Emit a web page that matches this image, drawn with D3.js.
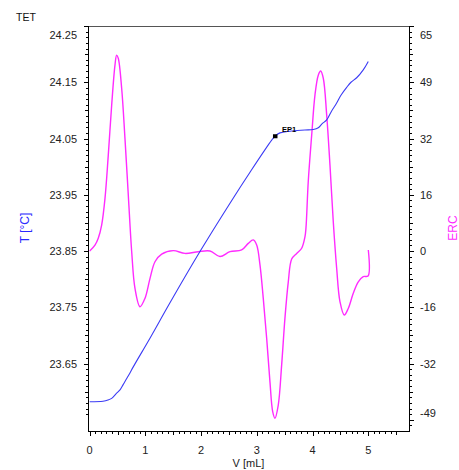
<!DOCTYPE html>
<html>
<head>
<meta charset="utf-8">
<script src="https://cdn.jsdelivr.net/npm/d3@7"></script>
<style>
  html, body { margin: 0; padding: 0; background: #fff; }
  svg { display: block; font-family: "Liberation Sans", Arial, sans-serif; }
</style>
</head>
<body>
<svg id="chart" width="459" height="470"></svg>
<script>
// ---- data ----
const ercV   = [0.00, 0.095, 0.154, 0.215, 0.275, 0.334, 0.395, 0.454, 0.484, 0.513, 0.574, 0.633, 0.693, 0.754, 0.813, 0.903, 0.992, 1.083, 1.172, 1.292, 1.500, 1.711, 1.949, 2.159, 2.338, 2.518, 2.727, 2.846, 2.936, 2.997, 3.056, 3.115, 3.176, 3.235, 3.284, 3.325, 3.384, 3.445, 3.504, 3.564, 3.625, 3.714, 3.804, 3.863, 3.881, 3.922, 3.984, 4.043, 4.102, 4.145, 4.192, 4.253, 4.312, 4.371, 4.432, 4.491, 4.568, 4.640, 4.730, 4.820, 4.909, 4.995, 5.000];
const ercVal = [0.0, 1.7, 3.7, 7.5, 15.2, 27.7, 42.2, 53.7, 56.6, 55.7, 47.0, 32.6, 16.2, -0.2, -10.8, -16.1, -13.7, -7.9, -3.1, -0.9, 0.1, -0.7, -0.2, 0.0, -1.6, -0.2, 0.3, 2.2, 3.2, 1.7, -4.0, -13.7, -25.2, -37.8, -46.4, -48.3, -44.5, -32.9, -19.4, -8.9, -2.3, -0.7, 0.8, 4.1, 6.6, 20.0, 33.5, 45.1, 50.8, 52.0, 49.9, 39.3, 24.8, 8.5, -5.0, -14.6, -18.5, -16.6, -12.2, -8.9, -7.4, -7.2, 0.3];

const tV   = [0.00, 0.239, 0.328, 0.395, 0.472, 0.544, 0.598, 0.651, 0.723, 0.782, 1.082, 1.441, 1.979, 2.518, 2.877, 3.266, 3.325, 3.414, 3.594, 3.863, 4.012, 4.102, 4.168, 4.253, 4.342, 4.432, 4.509, 4.612, 4.689, 4.791, 4.909, 4.999];
const tVal = [23.582, 23.583, 23.585, 23.588, 23.596, 23.603, 23.612, 23.621, 23.633, 23.644, 23.695, 23.758, 23.849, 23.935, 23.990, 24.047, 24.054, 24.060, 24.063, 24.065, 24.066, 24.069, 24.076, 24.083, 24.099, 24.113, 24.127, 24.141, 24.150, 24.158, 24.172, 24.187];

const epV = [3.325], epT = [24.054], epLabel = ["EP1"];

const xTickValues   = [0, 1, 2, 3, 4, 5];
const xTickLabels   = ["0", "1", "2", "3", "4", "5"];
const leftTickValues = [24.25, 24.15, 24.05, 23.95, 23.85, 23.75, 23.65];
const leftTickLabels = ["24.25", "24.15", "24.05", "23.95", "23.85", "23.75", "23.65"];
const rightTickValues = [65, 48.75, 32.5, 16.25, 0, -16.25, -32.5, -48.75];
const rightTickLabels = ["65", "49", "32", "16", "0", "-16", "-32", "-49"];

const title = "TET", xTitle = "V [mL]", yLeftTitle = "T [°C]", yRightTitle = "ERC";

// ---- layout ----
const L = 88, R = 409, T = 26, B = 431;
const blue = "#3b3bf5", magenta = "#ff2bff";

const svg = d3.select("#chart");
const x  = d3.scaleLinear().domain([-0.03, 5.73]).range([L, R]);
const yL = d3.scaleLinear().domain([23.53, 24.25]).range([B, T]);
const yR = d3.scaleLinear().domain([-52, 65]).range([B, T]);

const fs = 11;

// frame
svg.append("line").attr("x1", L).attr("x2", R).attr("y1", T + 0.5).attr("y2", T + 0.5)
  .attr("stroke", "#555").attr("stroke-width", 1);

function tickGroup(axisFn, scale, values, size, transform) {
  const g = svg.append("g").attr("transform", transform)
    .call(axisFn(scale).tickValues(values).tickSize(size).tickFormat(""));
  g.select(".domain").remove();
  g.selectAll("line").attr("stroke", "#000").attr("shape-rendering", "crispEdges");
  return g;
}

// x-axis ticks
const xMinor = d3.range(0, 56).map(i => +(i * 0.1).toFixed(2));
tickGroup(d3.axisBottom, x, xMinor.filter(v => Math.abs(v * 2 - Math.round(v * 2)) > 1e-6), 3, `translate(0,${B})`);
tickGroup(d3.axisBottom, x, xMinor.filter(v => Math.abs(v * 2 - Math.round(v * 2)) < 1e-6 && Math.abs(v - Math.round(v)) > 1e-6), 4, `translate(0,${B})`);
tickGroup(d3.axisBottom, x, xMinor.filter(v => Math.abs(v - Math.round(v)) < 1e-6), 5, `translate(0,${B})`);

// left ticks (0.01 minor, 0.05 medium, 0.1 major)
const lAll = d3.range(0, 70).map(i => +(23.56 + i * 0.01).toFixed(2)).filter(v => v <= 24.25);
const isMult = (v, m, off) => Math.abs((v - off) / m - Math.round((v - off) / m)) < 1e-4;
tickGroup(d3.axisLeft, yL, lAll.filter(v => !isMult(v, 0.05, 0)), 2.5, `translate(${L},0)`);
tickGroup(d3.axisLeft, yL, lAll.filter(v => isMult(v, 0.05, 0) && !isMult(v, 0.1, 0.05)), 3.5, `translate(${L},0)`);
tickGroup(d3.axisLeft, yL, lAll.filter(v => isMult(v, 0.1, 0.05)), 4.5, `translate(${L},0)`);

// right ticks
const rAll = d3.range(0, 72).map(i => -50.375 + i * 1.625).filter(v => v <= 65.01);
tickGroup(d3.axisRight, yR, rAll.filter(v => !isMult(v, 8.125, 0)), 2.5, `translate(${R},0)`);
tickGroup(d3.axisRight, yR, rAll.filter(v => isMult(v, 8.125, 0) && !isMult(v, 16.25, 0)), 3.5, `translate(${R},0)`);
tickGroup(d3.axisRight, yR, rAll.filter(v => isMult(v, 16.25, 0)), 5, `translate(${R},0)`);

// axis lines
svg.append("line").attr("x1", L + 0.5).attr("x2", L + 0.5).attr("y1", T).attr("y2", B + 1).attr("stroke", "#000");
svg.append("line").attr("x1", R + 0.5).attr("x2", R + 0.5).attr("y1", T).attr("y2", B + 1).attr("stroke", "#000");
svg.append("line").attr("x1", L).attr("x2", R + 1).attr("y1", B + 0.5).attr("y2", B + 0.5).attr("stroke", "#000");

// tick labels
const clampY = y => Math.max(35, Math.min(413, y));
svg.append("g").selectAll("text").data(leftTickValues).join("text")
  .attr("x", 77).attr("y", d => clampY(yL(d)) + 4)
  .attr("text-anchor", "end").attr("font-size", fs).attr("fill", "#222")
  .text((d, i) => leftTickLabels[i]);
svg.append("g").selectAll("text").data(rightTickValues).join("text")
  .attr("x", 420).attr("y", d => clampY(yR(d)) + 4)
  .attr("text-anchor", "start").attr("font-size", fs).attr("fill", "#222")
  .text((d, i) => rightTickLabels[i]);
svg.append("g").selectAll("text").data(xTickValues).join("text")
  .attr("x", d => x(d)).attr("y", 454)
  .attr("text-anchor", "middle").attr("font-size", fs).attr("fill", "#222")
  .text((d, i) => xTickLabels[i]);

// titles
svg.append("text").attr("x", 16).attr("y", 21).attr("font-size", 10.5).attr("fill", "#111").text(title);
svg.append("text").attr("x", (L + R) / 2).attr("y", 467).attr("text-anchor", "middle")
  .attr("font-size", fs).attr("fill", "#222").text(xTitle);
svg.append("text").attr("transform", "translate(29,228) rotate(-90)").attr("text-anchor", "middle")
  .attr("font-size", 12).attr("fill", "#2a2aff").text(yLeftTitle);
svg.append("text").attr("transform", "translate(457,228) rotate(-90)").attr("text-anchor", "middle")
  .attr("font-size", 12).attr("fill", magenta).text(yRightTitle);

// curves
const clip = svg.append("clipPath").attr("id", "plot").append("rect")
  .attr("x", L + 1).attr("y", T + 1).attr("width", R - L - 1).attr("height", B - T - 1);

const ercLine = d3.line().x(d => x(d[0])).y(d => yR(d[1])).curve(d3.curveCatmullRom.alpha(0.5));
svg.append("path").datum(ercV.map((v, i) => [v, ercVal[i]]))
  .attr("clip-path", "url(#plot)")
  .attr("d", ercLine).attr("fill", "none").attr("stroke", magenta).attr("stroke-width", 1.4);

const tLine = d3.line().x(d => x(d[0])).y(d => yL(d[1])).curve(d3.curveCatmullRom.alpha(0.5));
svg.append("path").datum(tV.map((v, i) => [v, tVal[i]]))
  .attr("clip-path", "url(#plot)")
  .attr("d", tLine).attr("fill", "none").attr("stroke", blue).attr("stroke-width", 1.1);

// endpoint marker
svg.append("g").selectAll("rect").data(epV).join("rect")
  .attr("x", d => x(d) - 2).attr("y", (d, i) => yL(epT[i]) - 2)
  .attr("width", 4.5).attr("height", 4).attr("fill", "#000");
svg.append("g").selectAll("text").data(epV).join("text")
  .attr("x", d => x(d) + 7).attr("y", (d, i) => yL(epT[i]) - 4)
  .attr("font-size", 7.5).attr("fill", "#000").attr("font-weight", "bold")
  .text((d, i) => epLabel[i]);
</script>
</body>
</html>
